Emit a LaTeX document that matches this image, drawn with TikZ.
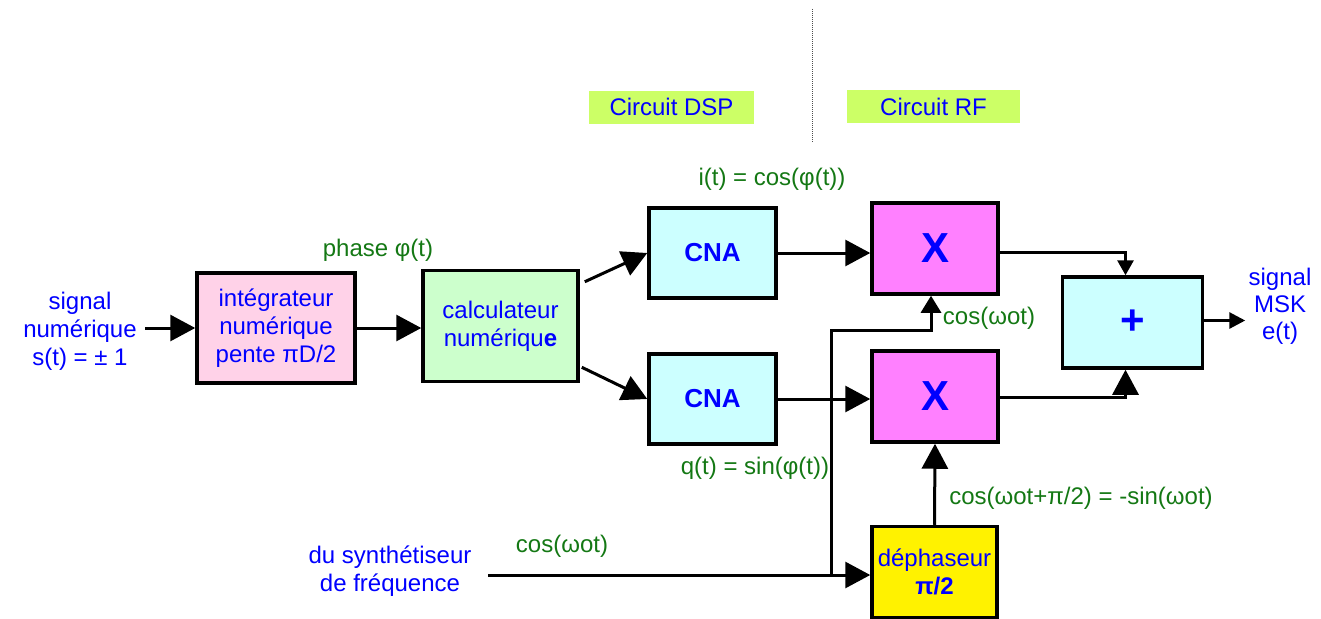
\documentclass[tikz,border=0pt]{standalone}
\usepackage{fontspec}
\setmainfont{Liberation Sans}
\usetikzlibrary{arrows.meta,positioning,calc}
\definecolor{txtblue}{RGB}{0,0,255}
\definecolor{txtgreen}{RGB}{20,120,20}
\definecolor{pinkbg}{RGB}{255,210,232}
\definecolor{greenbg}{RGB}{204,255,204}
\definecolor{cyanbg}{RGB}{204,255,255}
\definecolor{magbg}{RGB}{255,128,255}
\definecolor{limebg}{RGB}{204,255,102}

\begin{document}
\begin{tikzpicture}[x=1pt,y=1pt,
    every node/.style={font=\fontsize{24}{28}\selectfont},
    blk/.style={draw,line width=3.5pt,minimum width=126pt,minimum height=91pt,text=txtblue,align=center,inner sep=0pt},
    lbl/.style={text=txtgreen},
    info/.style={text=txtblue,align=center},
    zone/.style={fill=limebg,text=txtblue,minimum width=165pt,minimum height=33pt,inner sep=0pt},
    wire/.style={line width=3pt},
    big/.style={-{Triangle[length=25pt,width=26pt]}},
    small/.style={-{Triangle[length=15pt,width=16pt]}}]
    \useasboundingbox (0,0) rectangle (1321,-618);
    % zones
    \draw[dash pattern=on 1pt off 1pt,line width=.8pt,black!70] (812,-9) -- (812,-143);
    \node[zone] (dsp) at (671.5,-107) {Circuit DSP};
    \node[zone,minimum width=173pt] (rf) at (933.5,-106.5) {Circuit RF};
    % blocks
    \node[blk,fill=pinkbg,minimum width=158pt,minimum height=110pt] (integ) at (276,-328) {intégrateur\\numérique\\pente πD/2};
    \node[blk,fill=greenbg,minimum width=155pt,minimum height=111pt] (calc) at (500.5,-326) {calculateur\\numériqu\textbf{e}};
    \node[blk,fill=cyanbg,minimum width=127pt,minimum height=90pt,font=\fontsize{26}{28}\selectfont\bfseries] (cnaI) at (712.5,-253) {\raisebox{-4pt}{CNA}};
    \node[blk,fill=cyanbg,minimum width=127pt,minimum height=90pt,font=\fontsize{26}{28}\selectfont\bfseries] (cnaQ) at (712.5,-399) {\raisebox{-10pt}{CNA}};
    \node[blk,fill=magbg,font=\fontsize{42}{42}\selectfont\bfseries] (mulI) at (935,-248.5) {X};
    \node[blk,fill=magbg,font=\fontsize{42}{42}\selectfont\bfseries] (mulQ) at (935,-396.5) {X};
    \node[blk,fill=cyanbg,minimum width=140pt,font=\fontsize{42}{42}\selectfont\bfseries] (sum) at (1132.5,-322.5) {\raisebox{-8pt}{+}};
    \node[blk,fill=yellow,minimum width=125pt] (dephas) at (934.5,-572) {déphaseur\\\textbf{π/2}};
    % texts
    \node[info] (sig) at (80,-331) {signal\\numérique\\s(t) = ± 1};
    \node[info] (synth) at (390,-571) {du synthétiseur\\de fréquence};
    \node[info,font=\fontsize{24}{27}\selectfont] (msk) at (1280,-306) {signal\\MSK\\e(t)};
    \node[lbl] (phase) at (378,-250) {phase φ(t)};
    \node[lbl] (ilbl) at (772,-179) {i(t) = cos(φ(t))};
    \node[lbl] (qlbl) at (755,-468) {q(t) = sin(φ(t))};
    \node[lbl] (coslo) at (562,-546) {cos(ωot)};
    \node[lbl] (cosI) at (989,-318) {cos(ωot)};
    \node[lbl] (cosQ) at (1081,-498) {cos(ωot+π/2) = -sin(ωot)};
    % connectors
    \coordinate (in) at (145,-328);
    \coordinate (lo) at (488,-575);
    \coordinate (tap) at (831,-575);
    \coordinate (up) at (931,-330);
    \draw[wire,big] (in) -- (integ.west);
    \draw[wire,big] (integ.east) -- (integ.east -| calc.west);
    \draw[wire,big] ([xshift=5pt,yshift=-13pt]calc.north east) -- (cnaI.west);
    \draw[wire,big] ([xshift=2pt,yshift=16pt]calc.south east) -- (cnaQ.west);
    \draw[wire,big] (cnaI.east) -- (cnaI.east -| mulI.west);
    \draw[wire,big] (cnaQ.east) -- (cnaQ.east -| mulQ.west);
    \draw[wire,big] (lo) -- (lo -| dephas.west);
    \draw[wire,-{Triangle[length=17pt,width=20pt]}] (tap) |- (up) -- (up |- mulI.south);
    \draw[wire,big] (dephas.north) -- (mulQ.south);
    \draw[wire,small] ([yshift=-4pt]mulI.east) -| ([xshift=-7pt]sum.north);
    \draw[wire,big] ([yshift=-1pt]mulQ.east) -| ([xshift=-7pt]sum.south);
    \draw[wire,-{Triangle[length=16pt,width=16pt]}] ([yshift=2pt]sum.east) -- ++(41,0);
\end{tikzpicture}
\end{document}
